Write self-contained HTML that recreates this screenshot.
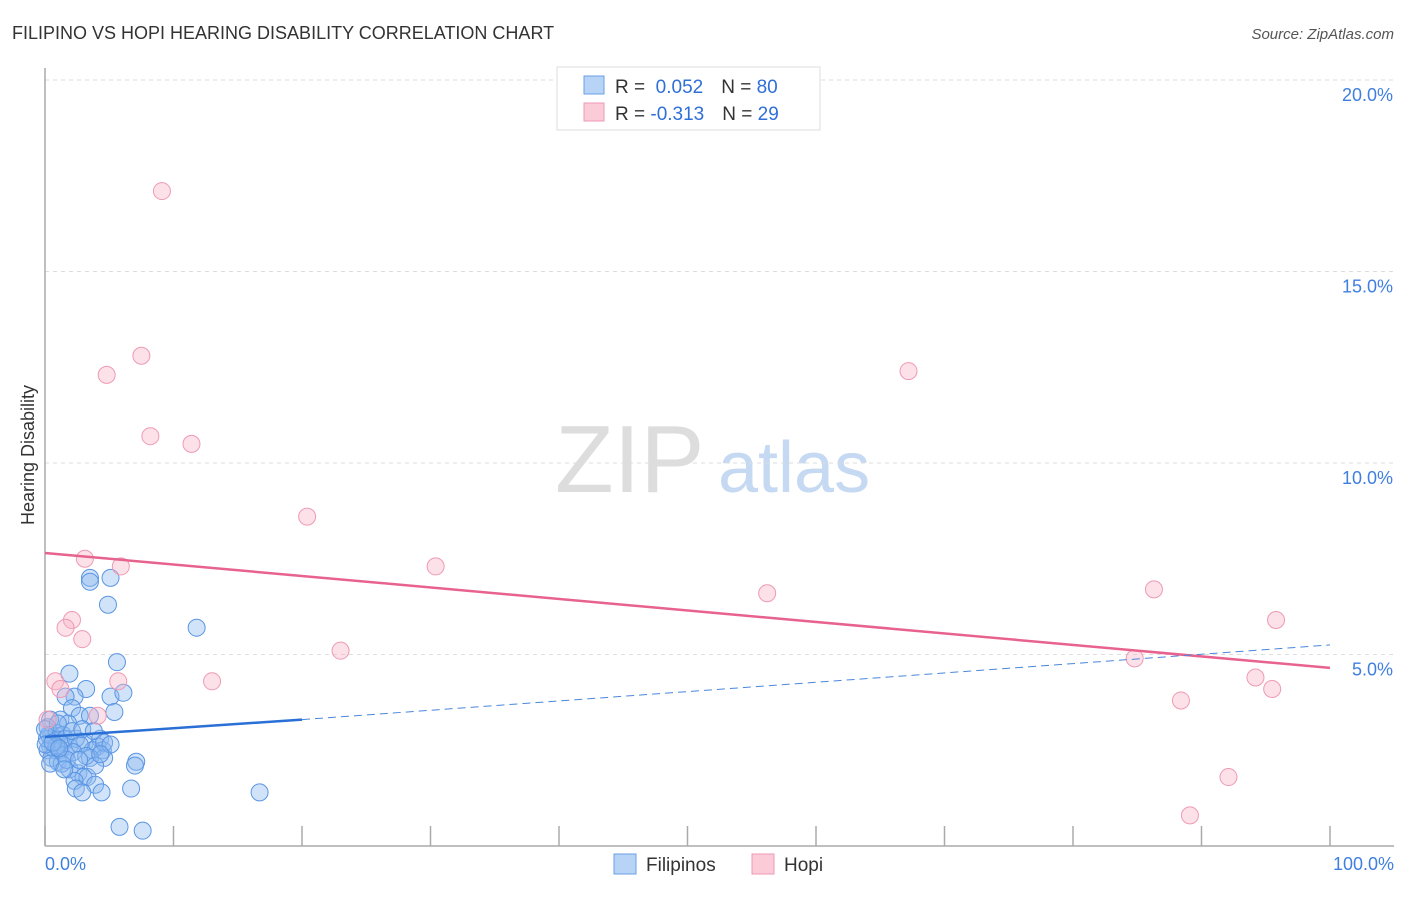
<!DOCTYPE html>
<html><head><meta charset="utf-8"><style>
body{margin:0;background:#fff;font-family:"Liberation Sans",sans-serif}
svg text{font-family:"Liberation Sans",sans-serif}
</style></head><body>
<svg id="chart" width="1406" height="892">
<text x="12" y="39" font-size="18" fill="#333">FILIPINO VS HOPI HEARING DISABILITY CORRELATION CHART</text>
<text x="1394" y="39" font-size="15" fill="#555" font-style="italic" text-anchor="end">Source: ZipAtlas.com</text>
<text x="555" y="492" font-size="96" fill="#ddd" font-family="Liberation Serif">ZIP</text>
<text x="718" y="492" font-size="72" fill="#c5d9f2">atlas</text>
<g id="grid"></g><g id="axes"></g><g id="pts"></g><g id="lines"></g>
<text transform="translate(34,455) rotate(-90)" font-size="18" fill="#333" text-anchor="middle">Hearing Disability</text>
<text x="45" y="870" font-size="18" fill="#3f7fe0">0.0%</text>
<text x="1394" y="870" font-size="18" fill="#3f7fe0" text-anchor="end">100.0%</text>
<g>
<rect x="557" y="67" width="263" height="63" fill="#fff" stroke="#ddd"/>
<rect x="584" y="76" width="20" height="18" fill="#b7d3f5" stroke="#6a9fe3"/>
<rect x="584" y="103" width="20" height="18" fill="#fbcbd8" stroke="#ec9ab3"/>
<text x="615" y="93" font-size="19" fill="#333">R = <tspan fill="#2f6fd8">&#160;0.052</tspan><tspan dx="18" fill="#333">N = </tspan><tspan fill="#2f6fd8">80</tspan></text>
<text x="615" y="120" font-size="19" fill="#333">R = <tspan fill="#2f6fd8">-0.313</tspan><tspan dx="18" fill="#333">N = </tspan><tspan fill="#2f6fd8">29</tspan></text>
</g>
<g>
<rect x="614" y="854" width="22" height="20" fill="#b7d3f5" stroke="#6a9fe3"/>
<text x="646" y="871" font-size="19" fill="#333">Filipinos</text>
<rect x="752" y="854" width="22" height="20" fill="#fbcbd8" stroke="#ec9ab3"/>
<text x="784" y="871" font-size="19" fill="#333">Hopi</text>
</g>
</svg>
<script>
const yTicks=[5,10,15,20];
const yTickLabels=["5.0%","10.0%","15.0%","20.0%"];
const xTicks=[0,10,20,30,40,50,60,70,80,90,100];
const hopiX=[9.1,7.5,4.8,8.2,11.4,20.4,30.4,3.1,5.9,2.1,1.6,2.9,23.0,56.2,67.2,86.3,95.8,84.8,94.2,95.5,88.4,92.1,89.1,13.0,0.8,1.2,5.7,4.1,0.2];
const hopiY=[17.1,12.8,12.3,10.7,10.5,8.6,7.3,7.5,7.3,5.9,5.7,5.4,5.1,6.6,12.4,6.7,5.9,4.9,4.4,4.1,3.8,1.8,0.8,4.3,4.3,4.1,4.3,3.4,3.3];
const filX=[3.5,5.1,3.5,4.9,11.8,5.6,1.9,3.2,5.1,6.1,2.3,1.6,5.4,2.1,2.7,1.2,3.5,1.8,0.4,0.2,0.5,0.9,1.3,1.9,3.1,4.3,4.1,4.5,3.7,0.4,0.8,1.2,1.6,0.2,0.5,1.0,4.6,7.1,7.0,1.9,2.6,3.0,3.3,2.3,3.9,2.4,2.9,4.4,6.7,16.7,5.8,7.6,0.15,0.3,0.9,1.4,1.6,2.4,2.7,2.2,1.3,1.7,3.5,2.1,2.9,3.8,4.6,0.9,0.4,3.2,5.1,0,0.05,0.6,1.1,1.5,3.9,2.65,1.0,4.3];
const filY=[7.0,7.0,6.9,6.3,5.7,4.8,4.5,4.1,3.9,4.0,3.9,3.9,3.5,3.6,3.4,3.3,3.4,3.2,3.3,3.1,2.9,2.8,2.7,2.6,2.7,2.8,2.6,2.5,2.5,2.6,2.5,2.5,2.4,2.5,2.3,2.2,2.3,2.2,2.1,2.0,1.9,1.8,1.8,1.7,1.6,1.5,1.4,1.4,1.5,1.4,0.5,0.4,2.8,2.9,2.95,2.9,2.8,2.8,2.65,2.45,2.15,2.25,2.3,3.0,3.05,3.0,2.7,2.6,2.15,2.35,2.65,3.05,2.65,2.7,2.55,2.0,2.1,2.25,3.2,2.4];
const hopiTrend=[[0,7.65],[100,4.65]];
const filTrendSolid=[[0,2.85],[20,3.3]];
const filTrendDash=[[20,3.3],[100,5.25]];
const NS="http://www.w3.org/2000/svg";
const X=v=>45+v*12.85, Y=v=>846-v*38.3;
function mk(parent,tag,attrs){const e=document.createElementNS(NS,tag);for(const k in attrs)e.setAttribute(k,attrs[k]);document.getElementById(parent).appendChild(e);return e;}
yTicks.forEach((t,i)=>{
 const l=mk('grid','line',{x1:45,x2:1394,y1:Y(t),y2:Y(t),stroke:'#ddd','stroke-dasharray':'4,4'});
 
 
 const tx=mk('grid','text',{x:1393,y:Y(t)+21,'font-size':18,fill:'#3f7fe0','text-anchor':'end'});
 tx.textContent=yTickLabels[i];
 
 
});
const ax=mk('axes','line',{x1:45,x2:45,y1:68,y2:846,stroke:'#aaa','stroke-width':1.5});


const bx=mk('axes','line',{x1:45,x2:1394,y1:846,y2:846,stroke:'#aaa','stroke-width':1.5});


xTicks.forEach(t=>{
 const l=mk('axes','line',{x1:X(t),x2:X(t),y1:826,y2:846,stroke:'#aaa','stroke-width':1.5});
 
 
});
filX.forEach((v,i)=>{
 const c=mk('pts','circle',{cx:X(v),cy:Y(filY[i]),r:8.5,fill:'rgba(140,185,240,0.4)',stroke:'#5a95e3','stroke-width':1});
 
 
});
hopiX.forEach((v,i)=>{
 const c=mk('pts','circle',{cx:X(v),cy:Y(hopiY[i]),r:8.5,fill:'rgba(248,180,200,0.4)',stroke:'#ef9ab4','stroke-width':1});
 
 
});
const l1=mk('lines','line',{x1:X(hopiTrend[0][0]),y1:Y(hopiTrend[0][1]),x2:X(hopiTrend[1][0]),y2:Y(hopiTrend[1][1]),stroke:'#e8628e','stroke-width':2.5});


const l2=mk('lines','line',{x1:X(filTrendSolid[0][0]),y1:Y(filTrendSolid[0][1]),x2:X(filTrendSolid[1][0]),y2:Y(filTrendSolid[1][1]),stroke:'#2a6fd6','stroke-width':2.5});


const l3=mk('lines','line',{x1:X(filTrendDash[0][0]),y1:Y(filTrendDash[0][1]),x2:X(filTrendDash[1][0]),y2:Y(filTrendDash[1][1]),stroke:'#4a86dc','stroke-width':1,'stroke-dasharray':'8,5'});


</script>
</body></html>
